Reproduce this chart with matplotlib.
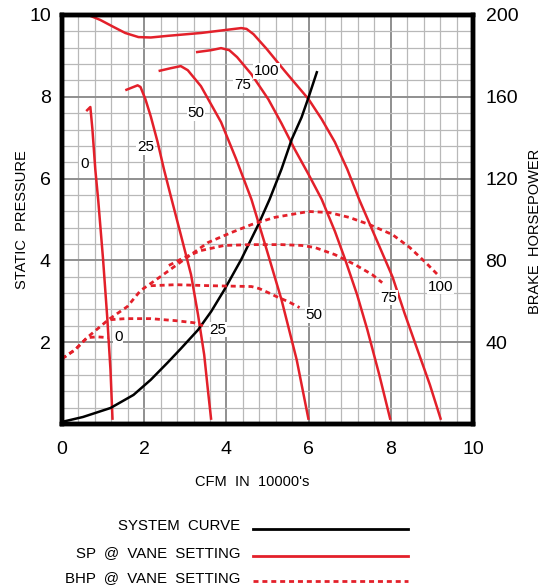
import matplotlib
matplotlib.use('Agg')
import matplotlib.pyplot as plt
from matplotlib.lines import Line2D
from matplotlib.ticker import MultipleLocator

plt.rcParams['font.family'] = ['Liberation Sans', 'DejaVu Sans']

RED = '#e3202a'

# static pressure curves (CFM in 10000's, SP)
sp_0_x = [0.59, 0.69, 0.74, 0.81, 0.88, 1.00, 1.10, 1.18, 1.23]
sp_0_y = [7.65, 7.75, 7.21, 6.23, 5.49, 4.02, 2.62, 1.32, 0.10]

sp_25_x = [1.54, 1.84, 1.91, 2.03, 2.16, 2.33, 2.48, 2.65, 2.89, 3.14, 3.31, 3.46, 3.55, 3.63]
sp_25_y = [8.16, 8.28, 8.24, 7.94, 7.52, 6.88, 6.23, 5.56, 4.63, 3.65, 2.67, 1.69, 0.83, 0.10]

sp_50_x = [2.35, 2.65, 2.89, 3.06, 3.38, 3.87, 4.24, 4.61, 4.98, 5.34, 5.71, 6.00]
sp_50_y = [8.63, 8.70, 8.75, 8.65, 8.26, 7.38, 6.47, 5.49, 4.26, 3.04, 1.57, 0.10]

sp_75_x = [3.26, 3.63, 3.87, 4.07, 4.26, 4.61, 5.02, 5.34, 5.66, 6.00, 6.32, 6.64,
           6.89, 7.18, 7.43, 7.72, 7.99]
sp_75_y = [9.09, 9.14, 9.19, 9.14, 8.97, 8.55, 7.94, 7.35, 6.72, 6.10, 5.49, 4.71,
           4.02, 3.16, 2.30, 1.20, 0.10]

sp_100_x = [0.64, 0.93, 1.25, 1.54, 1.86, 2.16, 2.57, 3.38, 4.36, 4.49, 4.66, 4.98,
            5.42, 6.00, 6.32, 6.64, 6.94, 7.23, 7.62, 8.04, 8.33, 8.65, 8.95, 9.22]
sp_100_y = [10.0, 9.88, 9.71, 9.56, 9.46, 9.45, 9.49, 9.56, 9.68, 9.66, 9.53, 9.17,
            8.63, 7.94, 7.45, 6.89, 6.23, 5.49, 4.58, 3.60, 2.72, 1.81, 0.96, 0.10]

# system curve
sys_x = [0.0, 0.51, 1.18, 1.74, 2.16, 2.57, 2.89, 3.31, 3.63, 3.95, 4.36, 4.78,
         5.05, 5.34, 5.59, 5.83, 6.00, 6.20]
sys_y = [0.05, 0.17, 0.39, 0.71, 1.08, 1.50, 1.84, 2.30, 2.75, 3.28, 4.02, 4.88,
         5.49, 6.23, 6.96, 7.50, 7.99, 8.60]

# brake horsepower curves (right axis)
bhp_0_x = [0.0, 0.32, 0.61, 0.86, 1.13]
bhp_0_y = [31.9, 36.3, 42.2, 42.6, 42.2]

bhp_25_x = [1.18, 1.54, 2.16, 2.77, 3.21, 3.43]
bhp_25_y = [51.0, 51.5, 51.5, 50.5, 49.5, 48.0]

bhp_50_x = [2.16, 2.77, 3.63, 4.61, 4.80, 5.02, 5.27, 5.51, 5.78]
bhp_50_y = [67.6, 68.1, 67.6, 67.2, 66.2, 64.2, 61.8, 59.8, 56.9]

bhp_75_x = [2.60, 2.97, 3.38, 3.95, 4.61, 5.34, 5.83, 6.15, 6.64, 7.13, 7.55, 7.79]
bhp_75_y = [77.5, 81.4, 84.8, 87.3, 87.7, 87.7, 87.3, 86.3, 82.8, 77.9, 73.0, 69.1]

bhp_100_x = [0.0, 0.32, 0.61, 1.13, 1.59, 1.91, 2.40, 2.97, 3.55, 4.12, 4.61, 5.17,
             5.71, 6.00, 6.50, 6.99, 7.48, 8.04, 8.46, 8.85, 9.14]
bhp_100_y = [31.9, 36.3, 42.2, 51.0, 57.4, 65.2, 72.1, 80.4, 88.7, 93.6, 97.5, 101.0,
             102.9, 103.9, 103.4, 101.0, 97.5, 92.6, 86.3, 78.9, 73.0]

vane_labels = ['0', '25', '50', '75', '100']
sp_label_pos = [(0.54, 6.35), (2.03, 6.76), (3.26, 7.60), (4.39, 8.28), (4.98, 8.63)]
bhp_label_pos = [(1.37, 42.6), (3.80, 46.1), (6.13, 53.4), (7.94, 61.8), (9.22, 67.2)]

x_ticks = [0, 2, 4, 6, 8, 10]
sp_ticks = [2, 4, 6, 8, 10]
bhp_ticks = [40, 80, 120, 160, 200]

DASH = (0, (1.8, 1.4))

fig = plt.figure(figsize=(5.49, 5.88), dpi=100)
ax = fig.add_axes([0.1129, 0.279, 0.7487, 0.6955])
ax2 = ax.twinx()

ax.set_xlim(0, 10)
ax.set_ylim(0, 10)
ax2.set_ylim(0, 200)

ax.xaxis.set_minor_locator(MultipleLocator(0.4))
ax.yaxis.set_minor_locator(MultipleLocator(0.4))
ax.set_xticks(x_ticks)
ax.set_yticks(sp_ticks)
ax2.set_yticks(bhp_ticks)
ax.grid(which='minor', color='#b8b8b8', lw=0.9)
ax.grid(which='major', color='#8f8f8f', lw=1.4)
ax.set_axisbelow(True)

for a in (ax, ax2):
    for s in a.spines.values():
        s.set_linewidth(3.2)
        s.set_color('black')
    a.tick_params(which='both', length=0, labelsize=14)
ax.tick_params(axis='x', pad=12)
ax.tick_params(axis='y', pad=8)
ax2.tick_params(axis='y', pad=9)

for xs, ys in [(sp_0_x, sp_0_y), (sp_25_x, sp_25_y), (sp_50_x, sp_50_y),
               (sp_75_x, sp_75_y), (sp_100_x, sp_100_y)]:
    ax.plot(xs, ys, color=RED, lw=1.8, solid_capstyle='butt', solid_joinstyle='round')
ax.plot(sys_x, sys_y, color='black', lw=1.8, solid_joinstyle='round')

for xs, ys in [(bhp_0_x, bhp_0_y), (bhp_25_x, bhp_25_y), (bhp_50_x, bhp_50_y),
               (bhp_75_x, bhp_75_y), (bhp_100_x, bhp_100_y)]:
    ax2.plot(xs, ys, color=RED, lw=2, linestyle=DASH)

box = dict(facecolor='white', edgecolor='none', pad=0.5)
for lab, (x, y) in zip(vane_labels, sp_label_pos):
    ax2.text(x, y * 20, lab, fontsize=11, ha='center', va='center', bbox=box)
for lab, (x, y) in zip(vane_labels, bhp_label_pos):
    ax2.text(x, y, lab, fontsize=11, ha='center', va='center', bbox=box)

fig.text(22 / 549, 1 - 220 / 588, 'STATIC  PRESSURE', rotation=90, fontsize=10.5,
         ha='center', va='center')
fig.text(535 / 549, 1 - 231 / 588, 'BRAKE  HORSEPOWER', rotation=90, fontsize=10.5,
         ha='center', va='center')
fig.text(252 / 549, 1 - 482 / 588, "CFM  IN  10000's", fontsize=10.5, ha='center', va='center')

# legend drawn by hand under the chart
legend_rows = [('SYSTEM  CURVE', 'black', '-', 529),
               ('SP  @  VANE  SETTING', RED, '-', 556),
               ('BHP  @  VANE  SETTING', RED, DASH, 581)]
for text, col, ls, py in legend_rows:
    fig.text(240 / 549, 1 - (py - 3) / 588, text, fontsize=10.8, ha='right', va='center')
    fig.add_artist(Line2D([253 / 549, 408 / 549], [1 - py / 588, 1 - py / 588],
                          color=col, lw=2, linestyle=ls, transform=fig.transFigure))

fig.savefig('out.png', dpi=100)
